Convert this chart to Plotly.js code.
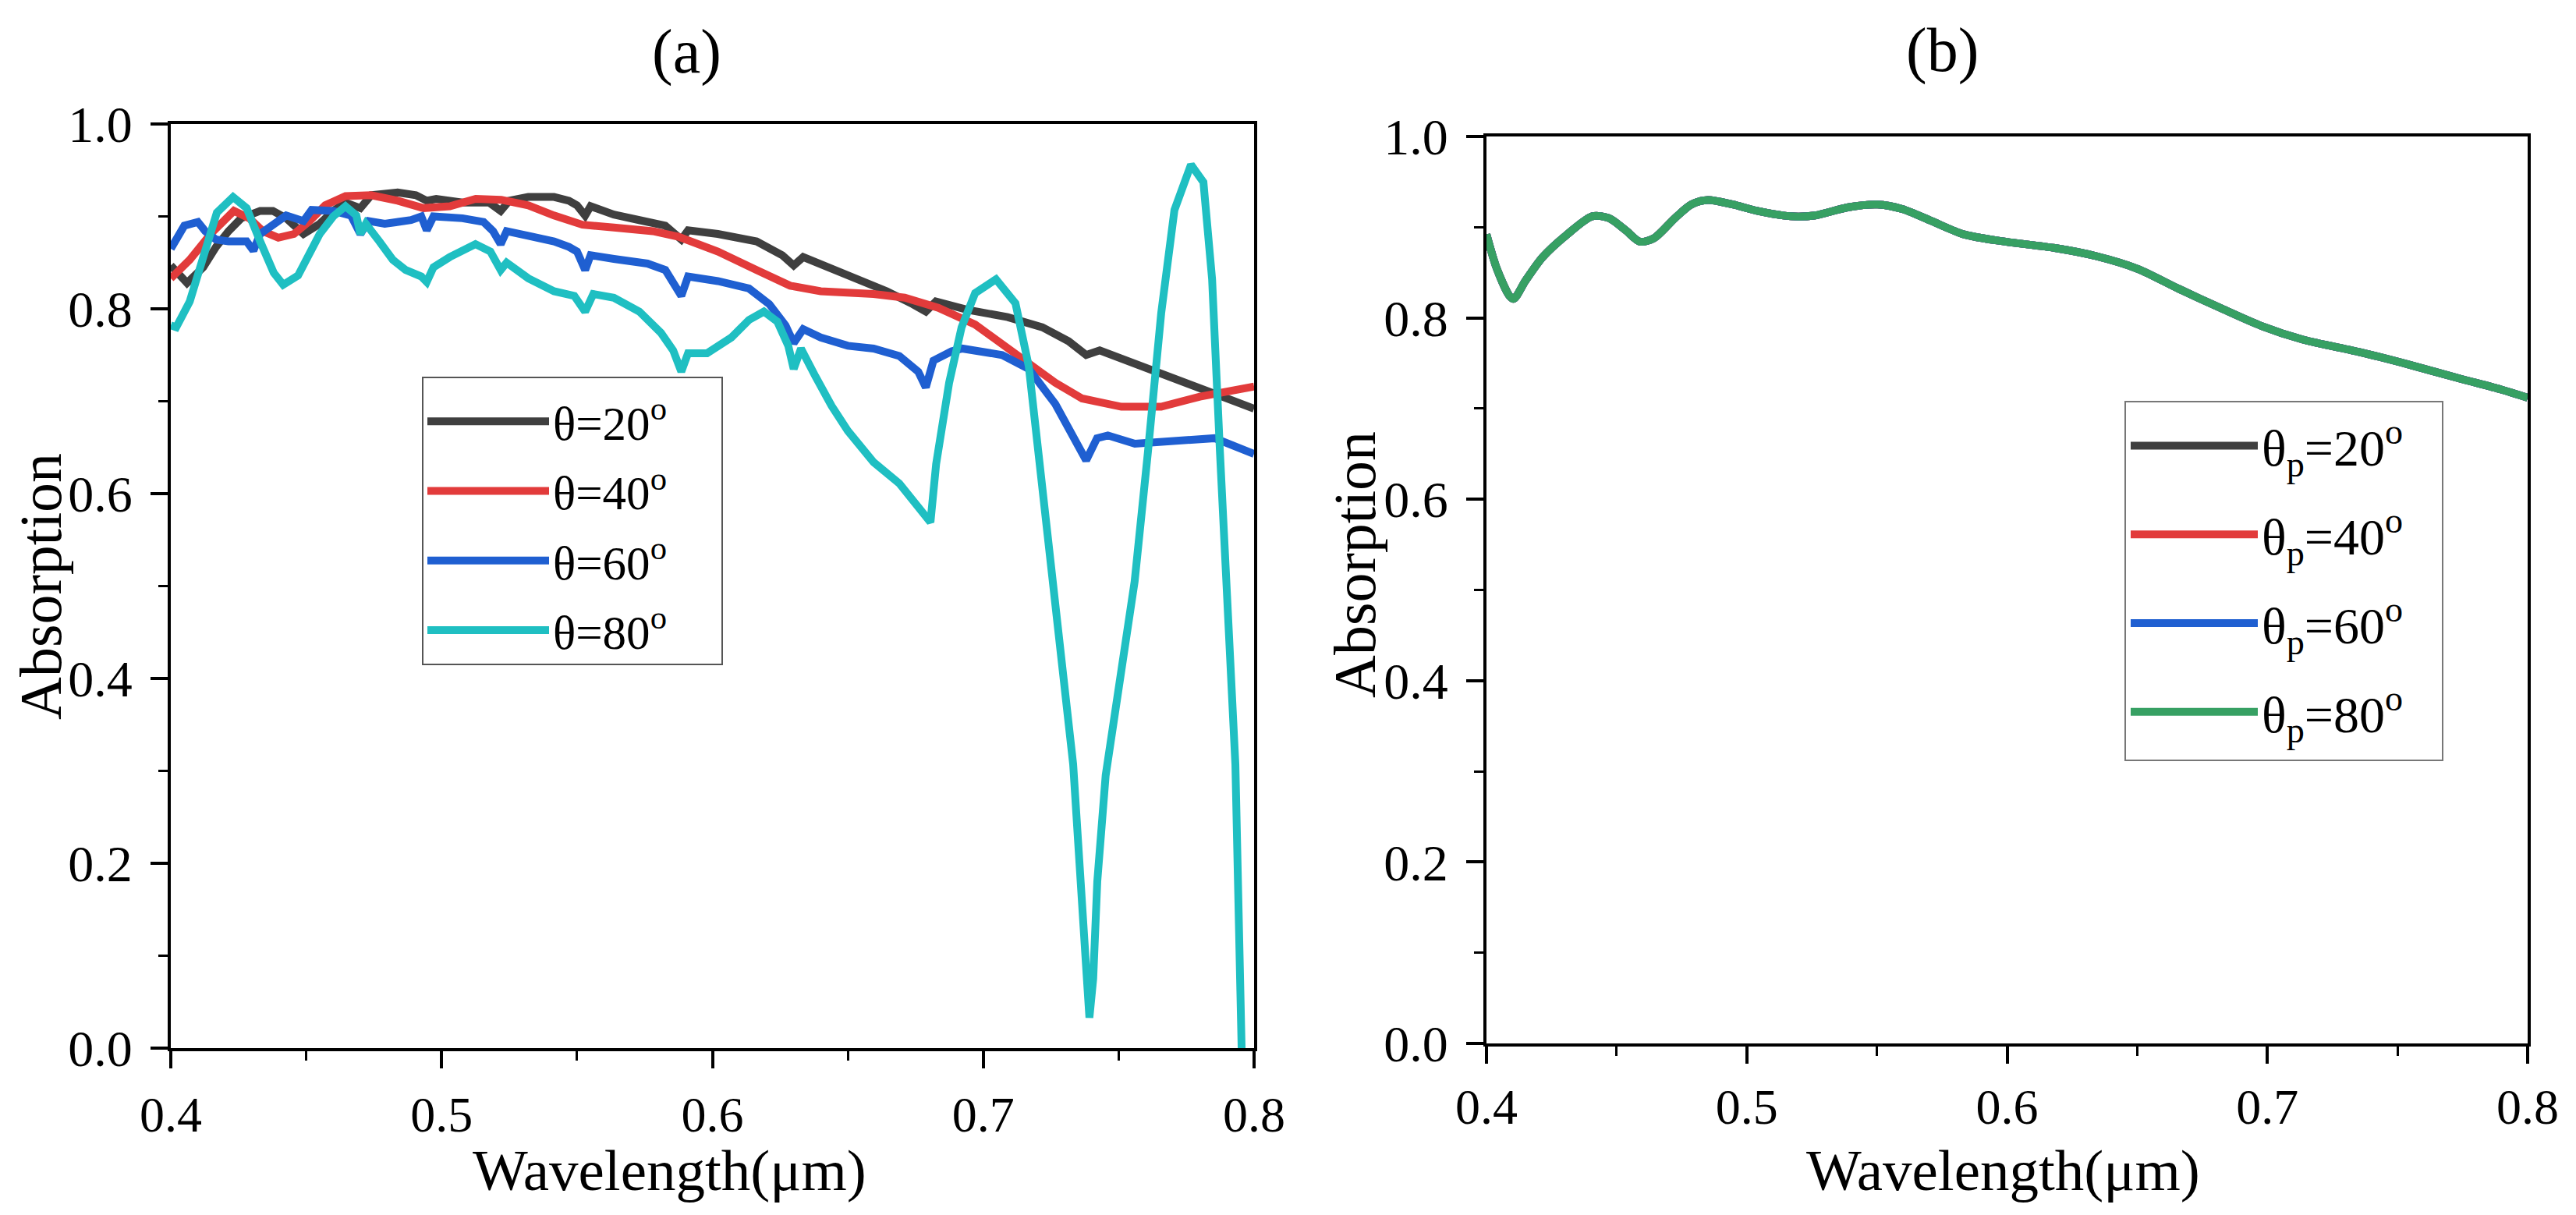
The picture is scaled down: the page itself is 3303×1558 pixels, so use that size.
<!DOCTYPE html>
<html><head><meta charset="utf-8">
<script src="https://cdn.plot.ly/plotly-3.0.1.min.js"></script>
<style>html,body{margin:0;padding:0;background:#fff}#chart{width:3303px;height:1558px}</style>
</head><body><div id="chart"></div>
<script>
// ---------- DATA ----------
// Panel (a): absorption vs wavelength (um) for incidence angles
const lamA20 = [0.400,0.406,0.412,0.4167,0.4213,0.426,0.433,0.4377,0.4426,0.449,0.455,0.460,0.4645,0.470,0.474,0.4838,0.4905,0.4945,0.498,0.5077,0.5175,0.5218,0.525,0.532,0.5415,0.547,0.550,0.553,0.555,0.5636,0.573,0.5826,0.5885,0.591,0.602,0.6163,0.6258,0.630,0.6335,0.650,0.6644,0.674,0.6788,0.6825,0.694,0.709,0.7218,0.7315,0.738,0.743,0.761,0.780,0.800];
const absA20 = [0.847,0.828,0.845,0.867,0.884,0.898,0.906,0.906,0.898,0.881,0.892,0.906,0.915,0.909,0.923,0.926,0.923,0.917,0.919,0.915,0.915,0.906,0.917,0.921,0.921,0.917,0.912,0.901,0.911,0.902,0.896,0.890,0.875,0.885,0.881,0.873,0.858,0.847,0.856,0.836,0.819,0.805,0.797,0.808,0.799,0.791,0.780,0.765,0.750,0.755,0.735,0.714,0.692];

const lamA40 = [0.400,0.407,0.4147,0.4233,0.429,0.434,0.4397,0.4455,0.4513,0.457,0.4645,0.474,0.4838,0.4933,0.503,0.5126,0.522,0.532,0.5415,0.547,0.552,0.5636,0.578,0.5875,0.602,0.6163,0.6287,0.640,0.6595,0.671,0.6834,0.697,0.712,0.7266,0.7365,0.751,0.7657,0.780,0.800];
const absA40 = [0.833,0.853,0.881,0.906,0.898,0.884,0.877,0.881,0.895,0.912,0.922,0.923,0.917,0.909,0.911,0.919,0.918,0.912,0.901,0.895,0.891,0.888,0.884,0.878,0.862,0.842,0.825,0.819,0.816,0.812,0.801,0.783,0.750,0.720,0.703,0.694,0.694,0.705,0.716];

const lamA60 = [0.400,0.405,0.410,0.4127,0.4167,0.4213,0.428,0.4305,0.433,0.4377,0.4426,0.449,0.452,0.460,0.4665,0.470,0.473,0.479,0.4887,0.4925,0.4945,0.497,0.5077,0.5155,0.519,0.5218,0.524,0.532,0.5415,0.547,0.550,0.553,0.555,0.5636,0.576,0.5826,0.5885,0.591,0.602,0.6135,0.621,0.627,0.630,0.6335,0.640,0.650,0.6595,0.669,0.676,0.6788,0.6816,0.6883,0.6923,0.707,0.7168,0.7266,0.7335,0.738,0.742,0.746,0.756,0.7707,0.7854,0.800];
const absA60 = [0.865,0.890,0.894,0.884,0.875,0.873,0.873,0.863,0.881,0.890,0.901,0.895,0.907,0.906,0.901,0.881,0.895,0.892,0.896,0.900,0.885,0.900,0.898,0.894,0.884,0.870,0.884,0.879,0.873,0.867,0.862,0.842,0.858,0.854,0.849,0.842,0.814,0.835,0.830,0.822,0.805,0.782,0.763,0.778,0.769,0.760,0.757,0.749,0.732,0.715,0.744,0.754,0.757,0.750,0.735,0.697,0.660,0.636,0.660,0.663,0.654,0.656,0.660,0.643];

const lamA80 = [0.400,0.402,0.407,0.412,0.417,0.423,0.428,0.433,0.438,0.4415,0.447,0.455,0.460,0.4645,0.4685,0.470,0.472,0.477,0.482,0.4867,0.4925,0.4945,0.497,0.503,0.5125,0.518,0.5218,0.524,0.532,0.5415,0.549,0.553,0.556,0.5636,0.573,0.581,0.5855,0.5885,0.591,0.598,0.607,0.6135,0.619,0.624,0.628,0.630,0.6327,0.638,0.644,0.650,0.6595,0.669,0.674,0.6805,0.6826,0.6874,0.692,0.697,0.7047,0.7119,0.7168,0.7218,0.7268,0.7332,0.7378,0.7392,0.7406,0.7421,0.7452,0.7500,0.7559,0.7608,0.7657,0.7706,0.7767,0.7813,0.7845,0.7874,0.7903,0.7931,0.7954];
const absA80 = [0.782,0.780,0.808,0.853,0.904,0.921,0.909,0.873,0.839,0.826,0.836,0.881,0.900,0.911,0.901,0.881,0.892,0.873,0.853,0.842,0.835,0.829,0.845,0.856,0.870,0.862,0.842,0.850,0.833,0.819,0.814,0.797,0.816,0.812,0.797,0.774,0.755,0.732,0.752,0.752,0.769,0.788,0.797,0.786,0.760,0.735,0.757,0.727,0.695,0.668,0.634,0.611,0.592,0.569,0.632,0.720,0.780,0.817,0.832,0.806,0.738,0.608,0.476,0.307,0.096,0.033,0.075,0.180,0.295,0.390,0.505,0.645,0.795,0.907,0.956,0.937,0.832,0.645,0.457,0.307,0.000];

// Panel (b): absorption vs wavelength (um); the four curves coincide
const lamB = [0.400,0.404,0.4089,0.4105,0.415,0.4216,0.431,0.4406,0.447,0.4533,0.459,0.4644,0.4724,0.4787,0.4851,0.4946,0.504,0.5168,0.5263,0.539,0.5502,0.5597,0.5708,0.5835,0.5994,0.6184,0.6343,0.6502,0.666,0.6819,0.6978,0.7137,0.7359,0.755,0.774,0.7898,0.800];
const absB = [0.892,0.854,0.824,0.821,0.841,0.867,0.892,0.912,0.910,0.897,0.884,0.888,0.910,0.925,0.930,0.925,0.918,0.912,0.913,0.922,0.925,0.920,0.907,0.892,0.884,0.877,0.868,0.854,0.832,0.811,0.791,0.776,0.762,0.748,0.733,0.721,0.712];

const namesA = ['θ=20<sup>o</sup>','θ=40<sup>o</sup>','θ=60<sup>o</sup>','θ=80<sup>o</sup>'];
const namesB = ['θ<sub>p</sub>=20<sup>o</sup>','θ<sub>p</sub>=40<sup>o</sup>','θ<sub>p</sub>=60<sup>o</sup>','θ<sub>p</sub>=80<sup>o</sup>'];
const colorsA = ['#3f3f3f','#e23b3b','#1f5fd1','#1fbfc2'];
const colorsB = ['#3f3f3f','#e23b3b','#1f5fd1','#37a063'];
const panelTitles = ['(a)','(b)'];
const xTitle = 'Wavelength(μm)';
const yTitle = 'Absorption';

// ---------- FIGURE ----------
const W = 3303, H = 1558;
const FONT = 'Liberation Serif, Times New Roman, serif';
const seriesA = [[lamA20,absA20],[lamA40,absA40],[lamA60,absA60],[lamA80,absA80]];

const traces = [];
seriesA.forEach((s,i) => traces.push({
  type:'scatter', mode:'lines', x:s[0], y:s[1], name:namesA[i],
  xaxis:'x', yaxis:'y', legend:'legend', legendgroup:'a'+i,
  line:{color:colorsA[i], width:10}
}));
namesB.forEach((n,i) => traces.push({
  type:'scatter', mode:'lines', x:lamB, y:absB, name:n,
  xaxis:'x2', yaxis:'y2', legend:'legend2', legendgroup:'b'+i,
  line:{color:colorsB[i], width:10, shape:'spline', smoothing:0.8}
}));

const axisBase = {
  showline:true, linecolor:'#000', linewidth:4, mirror:true,
  ticks:'outside', ticklen:22, tickwidth:4, tickcolor:'#000',
  showgrid:false, zeroline:false, fixedrange:true, automargin:false
};
function xAx(dom, anchor, fs, tstand) {
  return Object.assign({}, axisBase, {
    domain:dom, anchor:anchor, range:[0.4,0.8], tick0:0.4, dtick:0.1, tickformat:'.1f',
    minor:{dtick:0.05, ticks:'outside', ticklen:12, tickwidth:3, tickcolor:'#000', showgrid:false},
    tickfont:{family:FONT, size:fs, color:'#000'}, ticklabelstandoff:tstand
  });
}
function yAx(dom, anchor, fs, tstand) {
  return Object.assign({}, axisBase, {
    domain:dom, anchor:anchor, range:[0,1], tick0:0, dtick:0.2, tickformat:'.1f',
    minor:{dtick:0.1, ticks:'outside', ticklen:12, tickwidth:3, tickcolor:'#000', showgrid:false},
    tickfont:{family:FONT, size:fs, color:'#000'}, ticklabelstandoff:tstand
  });
}
function txt(text, x, y, size, angle) {
  return {text:text, xref:'paper', yref:'paper', x:x/W, y:1-y/H, xanchor:'center', yanchor:'middle',
          showarrow:false, textangle:angle||0, font:{family:FONT, size:size, color:'#000'}};
}

const layout = {
  width:W, height:H, margin:{l:0,r:0,t:0,b:0},
  paper_bgcolor:'#fff', plot_bgcolor:'#fff',
  font:{family:FONT, color:'#000'},
  showlegend:true,
  xaxis: xAx([219/W, 1608/W], 'y', 64, 4),
  yaxis: yAx([1-1344/H, 1-159/H], 'x', 66, 10),
  xaxis2: xAx([1906/W, 3241/W], 'y2', 64, 0),
  yaxis2: yAx([1-1338/H, 1-175/H], 'x2', 66, 10),
  legend: {x:543/W, y:1-494/H, xanchor:'left', yanchor:'top', bgcolor:'rgba(0,0,0,0)',
           borderwidth:0, font:{family:FONT, size:61, color:'#000'}, itemwidth:156,
           traceorder:'grouped', tracegroupgap:7},
  legend2: {x:2727/W, y:1-522/H, xanchor:'left', yanchor:'top', bgcolor:'rgba(0,0,0,0)',
           borderwidth:0, font:{family:FONT, size:66, color:'#000'}, itemwidth:163,
           traceorder:'grouped', tracegroupgap:25},
  shapes: [
    {type:'rect', xref:'paper', yref:'paper', x0:542/W, x1:926/W, y0:1-852/H, y1:1-484/H,
     line:{color:'#555', width:2}, fillcolor:'#fff', layer:'above'},
    {type:'rect', xref:'paper', yref:'paper', x0:2725/W, x1:3132/W, y0:1-975/H, y1:1-515/H,
     line:{color:'#777', width:2}, fillcolor:'#fff', layer:'above'}
  ],
  annotations: [
    txt(panelTitles[0], 881, 67, 80),
    txt(panelTitles[1], 2490, 64, 80),
    txt(xTitle, 858, 1500, 75),
    txt(xTitle, 2568, 1500, 75),
    txt(yTitle, 52, 752, 76, -90),
    txt(yTitle, 1737, 724, 76, -90)
  ]
};

Plotly.newPlot('chart', traces, layout, {displayModeBar:false, staticPlot:true});
</script>
</body></html>
